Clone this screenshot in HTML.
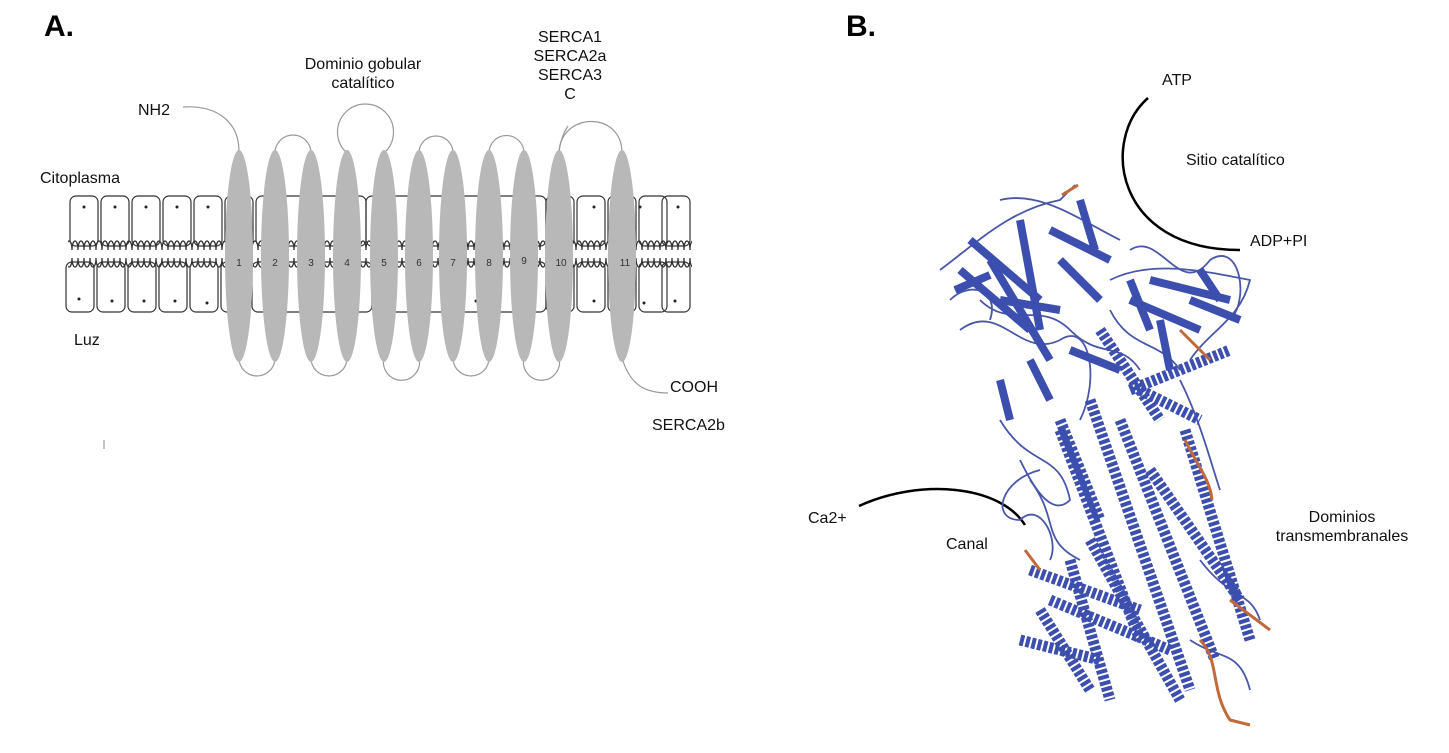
<!DOCTYPE html>
<html><head><meta charset="utf-8"><style>
body{margin:0;background:#fff;width:1449px;height:753px;overflow:hidden;font-family:"Liberation Sans",sans-serif;}
.t{position:absolute;font-size:16px;color:#111;line-height:19px;white-space:nowrap}
.c{text-align:center}
.h{position:absolute;font-size:30px;font-weight:bold}
</style></head><body>
<svg width="1449" height="753" style="position:absolute;left:0;top:0">
<g fill="none" stroke="#333" stroke-width="1.2">
<rect x="70" y="196" width="28" height="50" rx="6"/><rect x="101" y="196" width="28" height="50" rx="6"/><rect x="132" y="196" width="28" height="50" rx="6"/><rect x="163" y="196" width="28" height="50" rx="6"/><rect x="194" y="196" width="28" height="50" rx="6"/><rect x="225" y="196" width="28" height="50" rx="6"/>
<rect x="256" y="196" width="110" height="50" rx="6"/><rect x="366" y="196" width="120" height="50" rx="6"/><rect x="486" y="196" width="60" height="50" rx="6"/>
<rect x="546" y="196" width="28" height="50" rx="6"/><rect x="577" y="196" width="28" height="50" rx="6"/><rect x="608" y="196" width="28" height="50" rx="6"/><rect x="639" y="196" width="28" height="50" rx="6"/><rect x="662" y="196" width="28" height="50" rx="6"/>
<rect x="66" y="262" width="28" height="50" rx="6"/><rect x="97" y="262" width="28" height="50" rx="6"/><rect x="128" y="262" width="28" height="50" rx="6"/><rect x="159" y="262" width="28" height="50" rx="6"/><rect x="190" y="262" width="28" height="50" rx="6"/><rect x="221" y="262" width="28" height="50" rx="6"/>
<rect x="252" y="262" width="120" height="50" rx="6"/><rect x="372" y="262" width="110" height="50" rx="6"/><rect x="482" y="262" width="64" height="50" rx="6"/>
<rect x="546" y="262" width="28" height="50" rx="6"/><rect x="577" y="262" width="28" height="50" rx="6"/><rect x="608" y="262" width="28" height="50" rx="6"/><rect x="639" y="262" width="28" height="50" rx="6"/><rect x="662" y="262" width="28" height="50" rx="6"/>
</g>
<defs>
<pattern id="curlT" x="0" y="236" width="6" height="14" patternUnits="userSpaceOnUse"><path d="M0 14 C0 2 6 2 6 14" fill="none" stroke="#333" stroke-width="1.3"/></pattern>
<pattern id="curlB" x="0" y="258" width="6" height="14" patternUnits="userSpaceOnUse"><path d="M0 0 C0 12 6 12 6 0" fill="none" stroke="#333" stroke-width="1.3"/></pattern>
</defs>
<rect x="68" y="236" width="624" height="14" fill="url(#curlT)"/>
<rect x="68" y="258" width="624" height="14" fill="url(#curlB)"/>
<g fill="#222">
<circle cx="84" cy="207" r="1.5"/><circle cx="115" cy="207" r="1.5"/><circle cx="146" cy="207" r="1.5"/><circle cx="177" cy="207" r="1.5"/><circle cx="208" cy="207" r="1.5"/><circle cx="479" cy="207" r="1.5"/><circle cx="640" cy="207" r="1.5"/><circle cx="594" cy="207" r="1.5"/><circle cx="678" cy="207" r="1.5"/>
<circle cx="79" cy="299" r="1.5"/><circle cx="112" cy="301" r="1.5"/><circle cx="144" cy="301" r="1.5"/><circle cx="175" cy="301" r="1.5"/><circle cx="207" cy="303" r="1.5"/><circle cx="476" cy="301" r="1.5"/><circle cx="594" cy="301" r="1.5"/><circle cx="644" cy="303" r="1.5"/><circle cx="675" cy="301" r="1.5"/><circle cx="300" cy="300" r="1.5"/>
</g>
<g fill="none" stroke="#999" stroke-width="1.2">
<path d="M183 107 C215 105 239 120 239 152"/>
<path d="M275 153 A18 18 0 1 1 311 153"/>
<path d="M347 153 A28 28 0 1 1 384 153"/>
<path d="M419 153 A17 17 0 1 1 453 153"/>
<path d="M489 153 A17 17 0 1 1 524 153"/>
<path d="M559 153 C560 112 622 110 622 153"/>
<path d="M559 153 C560 140 564 132 568 126"/>
<path d="M239 358 A18 18 0 1 0 275 358"/>
<path d="M311 358 A18 18 0 1 0 347 358"/>
<path d="M384 358 A18 18 0 1 0 419 358"/>
<path d="M453 358 A18 18 0 1 0 489 358"/>
<path d="M524 358 A18 18 0 1 0 559 358"/>
<path d="M622 358 C630 385 645 393 668 393"/>
</g>
<g fill="#b8b8b8">
<ellipse cx="239" cy="256" rx="14" ry="106"/><ellipse cx="275" cy="256" rx="14" ry="106"/><ellipse cx="311" cy="256" rx="14" ry="106"/><ellipse cx="347" cy="256" rx="14" ry="106"/><ellipse cx="384" cy="256" rx="14" ry="106"/><ellipse cx="419" cy="256" rx="14" ry="106"/><ellipse cx="453" cy="256" rx="14" ry="106"/><ellipse cx="489" cy="256" rx="14" ry="106"/><ellipse cx="524" cy="256" rx="14" ry="106"/><ellipse cx="559" cy="256" rx="14" ry="106"/><ellipse cx="622" cy="256" rx="14" ry="106"/>
</g>
<g font-size="10" fill="#333" text-anchor="middle" font-family="Liberation Sans">
<text x="239" y="266">1</text><text x="275" y="266">2</text><text x="311" y="266">3</text><text x="347" y="266">4</text><text x="384" y="266">5</text><text x="419" y="266">6</text><text x="453" y="266">7</text><text x="489" y="266">8</text><text x="524" y="264">9</text><text x="561" y="266">10</text><text x="625" y="266">11</text>
</g>
<line x1="104" y1="440" x2="104" y2="449" stroke="#888"/>
<g fill="none" stroke="#000" stroke-width="2.5">
<path d="M1148 98 C1100 140 1115 250 1240 250"/>
<path d="M859 506 C920 478 1000 485 1025 525"/>
</g>
<!-- protein -->
<g fill="none" stroke-linejoin="round">
<g stroke="#4a56a8" stroke-width="1.8">
<path d="M940 270 C980 240 1010 210 1060 200 C1070 190 1075 185 1075 185"/>
<path d="M960 330 C1000 300 1020 360 1060 340 C1090 320 1100 380 1080 420"/>
<path d="M1000 420 C1030 470 1060 450 1070 500 C1050 520 1030 480 1020 460"/>
<path d="M1110 280 C1150 260 1200 270 1250 280 C1240 320 1210 330 1190 360"/>
<path d="M1180 380 C1200 420 1210 460 1220 490"/>
<path d="M1000 200 C1040 190 1080 220 1120 240"/>
<path d="M1030 480 C1060 520 1040 540 1080 560"/>
<path d="M980 300 C1010 330 1040 300 1070 330 C1100 360 1120 340 1140 370"/>
<path d="M1110 310 C1130 350 1160 340 1180 370"/>
<path d="M1040 470 C1000 480 990 520 1020 520 C1040 500 1060 540 1050 560"/>
<path d="M1130 250 C1160 230 1180 300 1210 260 C1240 240 1250 300 1230 320"/>
<path d="M950 300 C970 280 1000 290 990 320"/>
<path d="M1200 560 C1230 600 1250 590 1260 620"/>
<path d="M1190 640 C1220 660 1240 650 1250 690"/>
</g>
<g stroke="#3d4fae" stroke-width="11" stroke-dasharray="4 2">
<path d="M1090 400 L1190 690"/><path d="M1120 420 L1215 660"/><path d="M1060 430 L1140 640"/>
<path d="M1185 430 L1250 640"/><path d="M1030 570 L1140 610"/><path d="M1050 600 L1170 650"/>
<path d="M1090 540 L1180 700"/><path d="M1070 560 L1110 700"/><path d="M1150 470 L1240 600"/>
<path d="M1130 390 L1230 350"/><path d="M1100 330 L1160 420"/><path d="M1140 390 L1200 420"/>
<path d="M1060 420 L1100 520"/><path d="M1040 610 L1090 690"/><path d="M1020 640 L1100 660"/>
</g>
<g stroke="#3d4fae" stroke-width="8">
<path d="M990 260 L1050 360"/><path d="M960 270 L1030 330"/><path d="M1020 220 L1040 330"/>
<path d="M1050 230 L1110 260"/><path d="M1150 280 L1230 300"/><path d="M1130 300 L1200 330"/>
<path d="M970 240 L1040 300"/><path d="M1000 300 L1060 310"/><path d="M1060 260 L1100 300"/>
<path d="M1080 200 L1095 250"/><path d="M1190 300 L1240 320"/><path d="M1160 320 L1170 370"/>
<path d="M1000 380 L1010 420"/><path d="M1030 360 L1050 400"/><path d="M1070 350 L1120 370"/>
<path d="M955 290 L990 275"/><path d="M1130 280 L1150 330"/><path d="M1200 270 L1220 300"/>
</g>
<g stroke="#c06a3c" stroke-width="3">
<path d="M1062 195 L1078 185"/><path d="M1185 440 C1200 470 1210 480 1212 500"/>
<path d="M1025 550 L1040 570"/><path d="M1200 640 C1220 660 1210 690 1230 720 L1250 725"/>
<path d="M1230 600 L1270 630"/><path d="M1180 330 L1210 360"/>
</g>
</g>
</svg>
<div class="h" style="left:44px;top:10px">A.</div>
<div class="h" style="left:846px;top:10px">B.</div>
<div class="t c" style="left:280px;top:55px;width:166px">Dominio gobular<br>catalítico</div>
<div class="t c" style="left:520px;top:28px;width:100px">SERCA1<br>SERCA2a<br>SERCA3<br>C</div>
<div class="t" style="left:138px;top:101px">NH2</div>
<div class="t" style="left:40px;top:169px">Citoplasma</div>
<div class="t" style="left:74px;top:331px">Luz</div>
<div class="t" style="left:670px;top:378px">COOH</div>
<div class="t" style="left:652px;top:416px">SERCA2b</div>
<div class="t" style="left:1162px;top:71px">ATP</div>
<div class="t" style="left:1186px;top:151px">Sitio catalítico</div>
<div class="t" style="left:1250px;top:232px">ADP+PI</div>
<div class="t" style="left:808px;top:509px">Ca2+</div>
<div class="t" style="left:946px;top:535px">Canal</div>
<div class="t c" style="left:1262px;top:508px;width:160px">Dominios<br>transmembranales</div>
</body></html>
